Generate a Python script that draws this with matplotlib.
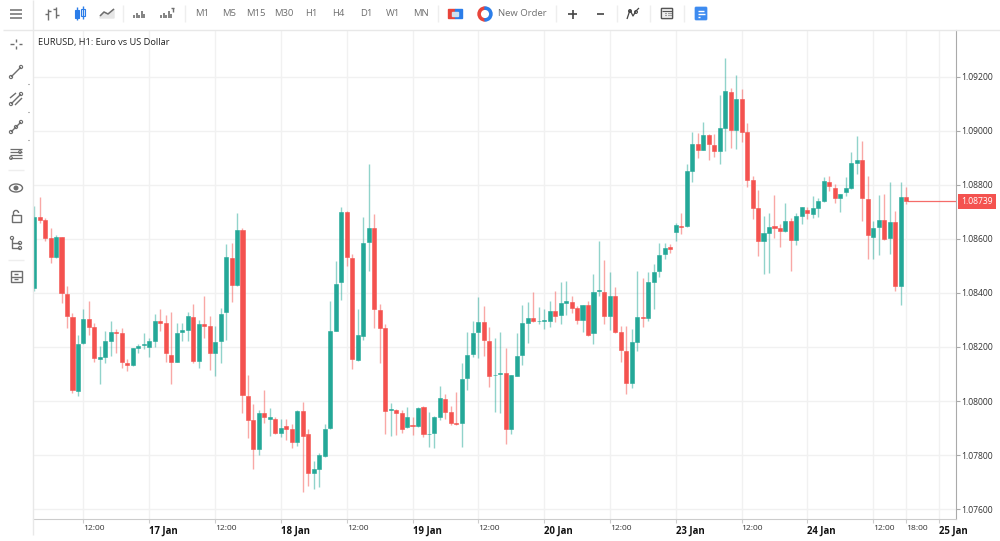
import matplotlib
matplotlib.use('Agg')
import matplotlib.pyplot as plt
from matplotlib.patches import Rectangle, Circle, Wedge, Ellipse, FancyBboxPatch

plt.rcParams['font.family'] = ['Open Sans', 'DejaVu Sans']

# hourly candles, hours counted from 17 Jan 00:00 with the weekend left out
first_hour = -21

opens = [
    1.08420, 1.08683, 1.08670, 1.08605, 1.08532, 1.08606, 1.08398, 1.08310, 1.08038, 1.08214,
    1.08303, 1.08274, 1.08154, 1.08163, 1.08223, 1.08255, 1.08250, 1.08140, 1.08134, 1.08198,
    1.08208, 1.08201, 1.08224, 1.08298, 1.08288, 1.08171, 1.08146, 1.08255, 1.08263, 1.08311,
    1.08150, 1.08284, 1.08276, 1.08177, 1.08222, 1.08330, 1.08530, 1.08428, 1.08634, 1.08018,
    1.07929, 1.07824, 1.07955, 1.07935, 1.07935, 1.07883, 1.07907, 1.07896, 1.07848, 1.07964,
    1.07876, 1.07735, 1.07748, 1.07797, 1.07900, 1.08261, 1.08440, 1.08700, 1.08529, 1.08151,
    1.08242, 1.08588, 1.08642, 1.08337, 1.08271, 1.07966, 1.07968, 1.07956, 1.07905, 1.07910,
    1.07907, 1.07979, 1.07878, 1.07880, 1.07940, 1.08007, 1.07958, 1.07920, 1.07919, 1.08087,
    1.08174, 1.08255, 1.08294, 1.08224, 1.08095, 1.08100, 1.08105, 1.07897, 1.08092, 1.08169,
    1.08290, 1.08308, 1.08295, 1.08297, 1.08295, 1.08334, 1.08317, 1.08364, 1.08366, 1.08344,
    1.08300, 1.08356, 1.08250, 1.08406, 1.08405, 1.08314, 1.08390, 1.08255, 1.08186, 1.08068,
    1.08219, 1.08312, 1.08308, 1.08439, 1.08481, 1.08543, 1.08570, 1.08626, 1.08648, 1.08647,
    1.08852, 1.08952, 1.08931, 1.08986, 1.08949, 1.08926, 1.09011, 1.09144, 1.09005, 1.09119,
    1.08995, 1.08817, 1.08715, 1.08593, 1.08623, 1.08647, 1.08641, 1.08630, 1.08665, 1.08597,
    1.08684, 1.08708, 1.08694, 1.08714, 1.08741, 1.08810, 1.08787, 1.08750, 1.08773, 1.08788,
    1.08883, 1.08892, 1.08748, 1.08608, 1.08643, 1.08671, 1.08603, 1.08662, 1.08427, 1.08756,
]
highs = [
    1.08723, 1.08757, 1.08676, 1.08642, 1.08615, 1.08608, 1.08426, 1.08325, 1.08243, 1.08339,
    1.08370, 1.08290, 1.08205, 1.08259, 1.08296, 1.08265, 1.08269, 1.08154, 1.08197, 1.08211,
    1.08250, 1.08232, 1.08322, 1.08340, 1.08318, 1.08329, 1.08288, 1.08290, 1.08328, 1.08358,
    1.08300, 1.08390, 1.08313, 1.08277, 1.08343, 1.08581, 1.08584, 1.08697, 1.08640, 1.08096,
    1.07988, 1.07966, 1.08039, 1.07974, 1.07939, 1.07935, 1.07935, 1.07914, 1.07966, 1.07996,
    1.07895, 1.07777, 1.07806, 1.07913, 1.08370, 1.08517, 1.08717, 1.08702, 1.08544, 1.08339,
    1.08682, 1.08876, 1.08693, 1.08361, 1.08284, 1.07994, 1.07969, 1.07967, 1.07977, 1.07939,
    1.07979, 1.07983, 1.07958, 1.07946, 1.08057, 1.08025, 1.07983, 1.08035, 1.08142, 1.08255,
    1.08297, 1.08386, 1.08350, 1.08273, 1.08232, 1.08256, 1.08195, 1.08095, 1.08250, 1.08355,
    1.08365, 1.08402, 1.08349, 1.08339, 1.08370, 1.08406, 1.08439, 1.08444, 1.08389, 1.08352,
    1.08356, 1.08370, 1.08470, 1.08593, 1.08522, 1.08476, 1.08421, 1.08277, 1.08279, 1.08265,
    1.08481, 1.08454, 1.08476, 1.08506, 1.08587, 1.08587, 1.08582, 1.08658, 1.08695, 1.08877,
    1.08998, 1.08991, 1.09033, 1.08989, 1.08988, 1.09133, 1.09269, 1.09160, 1.09206, 1.09156,
    1.09028, 1.08833, 1.08781, 1.08685, 1.08695, 1.08762, 1.08656, 1.08733, 1.08677, 1.08695,
    1.08719, 1.08719, 1.08760, 1.08750, 1.08829, 1.08834, 1.08803, 1.08767, 1.08830, 1.08922,
    1.08983, 1.08963, 1.08834, 1.08667, 1.08762, 1.08767, 1.08810, 1.08703, 1.08811, 1.08793,
]
lows = [
    1.08408, 1.08660, 1.08594, 1.08510, 1.08528, 1.08364, 1.08271, 1.08028, 1.08020, 1.08211,
    1.08244, 1.08146, 1.08064, 1.08142, 1.08168, 1.08178, 1.08121, 1.08111, 1.08130, 1.08178,
    1.08194, 1.08164, 1.08201, 1.08260, 1.08145, 1.08064, 1.08143, 1.08223, 1.08223, 1.08139,
    1.08123, 1.08234, 1.08114, 1.08093, 1.08139, 1.08225, 1.08366, 1.08425, 1.07956, 1.07863,
    1.07749, 1.07801, 1.07919, 1.07870, 1.07876, 1.07865, 1.07855, 1.07827, 1.07834, 1.07664,
    1.07685, 1.07674, 1.07682, 1.07793, 1.07896, 1.08260, 1.08374, 1.08500, 1.08117, 1.08150,
    1.08225, 1.08483, 1.08269, 1.08140, 1.07878, 1.07872, 1.07874, 1.07880, 1.07899, 1.07874,
    1.07903, 1.07866, 1.07831, 1.07825, 1.07928, 1.07934, 1.07911, 1.07911, 1.07831, 1.08039,
    1.08162, 1.08158, 1.08165, 1.08053, 1.07960, 1.07955, 1.07840, 1.07878, 1.08092, 1.08133,
    1.08216, 1.08293, 1.08284, 1.08266, 1.08274, 1.08291, 1.08285, 1.08317, 1.08327, 1.08284,
    1.08255, 1.08242, 1.08210, 1.08389, 1.08284, 1.08263, 1.08250, 1.08144, 1.08027, 1.08049,
    1.08185, 1.08275, 1.08297, 1.08339, 1.08460, 1.08526, 1.08549, 1.08594, 1.08617, 1.08644,
    1.08811, 1.08899, 1.08930, 1.08891, 1.08904, 1.08877, 1.08927, 1.08938, 1.08935, 1.08960,
    1.08793, 1.08673, 1.08537, 1.08470, 1.08473, 1.08602, 1.08572, 1.08627, 1.08483, 1.08578,
    1.08656, 1.08674, 1.08676, 1.08680, 1.08737, 1.08779, 1.08735, 1.08699, 1.08761, 1.08785,
    1.08840, 1.08668, 1.08525, 1.08526, 1.08542, 1.08597, 1.08546, 1.08409, 1.08357, 1.08730,
]
closes = [
    1.08683, 1.08670, 1.08605, 1.08532, 1.08606, 1.08399, 1.08316, 1.08041, 1.08212, 1.08303,
    1.08275, 1.08159, 1.08162, 1.08222, 1.08255, 1.08251, 1.08143, 1.08132, 1.08197, 1.08205,
    1.08212, 1.08223, 1.08298, 1.08290, 1.08176, 1.08146, 1.08253, 1.08263, 1.08313, 1.08150,
    1.08284, 1.08277, 1.08176, 1.08219, 1.08324, 1.08532, 1.08429, 1.08632, 1.08021, 1.07929,
    1.07824, 1.07956, 1.07939, 1.07939, 1.07880, 1.07901, 1.07898, 1.07848, 1.07964, 1.07872,
    1.07735, 1.07747, 1.07800, 1.07897, 1.08258, 1.08435, 1.08700, 1.08532, 1.08155, 1.08243,
    1.08585, 1.08642, 1.08339, 1.08272, 1.07962, 1.07969, 1.07957, 1.07897, 1.07939, 1.07908,
    1.07973, 1.07879, 1.07879, 1.07939, 1.08010, 1.07960, 1.07919, 1.07914, 1.08083, 1.08172,
    1.08251, 1.08294, 1.08225, 1.08094, 1.08098, 1.08105, 1.07897, 1.08095, 1.08166, 1.08289,
    1.08308, 1.08295, 1.08297, 1.08300, 1.08334, 1.08314, 1.08364, 1.08369, 1.08345, 1.08300,
    1.08354, 1.08245, 1.08402, 1.08411, 1.08313, 1.08390, 1.08254, 1.08189, 1.08068, 1.08217,
    1.08311, 1.08308, 1.08440, 1.08476, 1.08542, 1.08566, 1.08563, 1.08652, 1.08643, 1.08853,
    1.08952, 1.08928, 1.08986, 1.08951, 1.08926, 1.09010, 1.09147, 1.09005, 1.09119, 1.08996,
    1.08819, 1.08715, 1.08593, 1.08621, 1.08646, 1.08642, 1.08630, 1.08667, 1.08596, 1.08685,
    1.08719, 1.08695, 1.08713, 1.08739, 1.08813, 1.08795, 1.08751, 1.08767, 1.08787, 1.08881,
    1.08892, 1.08753, 1.08613, 1.08642, 1.08671, 1.08600, 1.08662, 1.08427, 1.08756, 1.08739,
]

price_ticks = [1.076, 1.078, 1.080, 1.082, 1.084, 1.086, 1.088, 1.090, 1.092]
time_ticks = [-12, 0, 12, 24, 36, 48, 60, 72, 84, 96, 108, 120, 132, 138, 144]
time_labels = ['12:00', '17 Jan', '12:00', '18 Jan', '12:00', '19 Jan', '12:00', '20 Jan',
               '12:00', '23 Jan', '12:00', '24 Jan', '12:00', '18:00', '25 Jan']
periods = ['M1', 'M5', 'M15', 'M30', 'H1', 'H4', 'D1', 'W1', 'MN']
last_price = 1.08739

GREEN = '#24a898'
RED = '#f4524f'
GREY = '#6e6e6e'
GRID = '#f1f1f1'

fig = plt.figure(figsize=(10, 5.41), dpi=100, facecolor='white')
ax = fig.add_axes([33 / 1000, 1 - 519 / 541, 923 / 1000, 489 / 541])

hours = [first_hour + i for i in range(len(opens))]
colors = [GREEN if c >= o else RED for o, c in zip(opens, closes)]

# wicks first, lighter than the bodies
ax.vlines(hours, lows, highs, colors=colors, linewidth=1.0, alpha=0.5, zorder=2)
ax.bar(hours, [abs(c - o) for o, c in zip(opens, closes)],
       bottom=[min(o, c) for o, c in zip(opens, closes)],
       width=0.74, color=colors, edgecolor=colors, linewidth=0.4, zorder=3)

# last price line and tag
ax.plot([hours[-1] + 0.4, 147.1], [last_price, last_price], color=RED, linewidth=0.9, alpha=0.85, zorder=2)
ax.text(1.0052, last_price, '1.08739', transform=ax.get_yaxis_transform(), color='white',
        fontsize=6.2, ha='left', va='center', zorder=5, clip_on=False,
        bbox=dict(boxstyle='square,pad=0.38', facecolor=RED, edgecolor='none'))

ax.set_xlim(-21.2, 147.1)
ax.set_ylim(1.07563, 1.09374)
ax.yaxis.tick_right()
ax.set_yticks(price_ticks)
ax.set_yticklabels(['%.5f' % p for p in price_ticks], fontsize=6.2, color='#333333')
ax.set_xticks(time_ticks)
ax.set_xticklabels(time_labels, fontsize=6.1, color='#333333', ha='left')
for tick in ax.get_xticklabels():
    if 'Jan' in tick.get_text():
        tick.set_fontweight('bold')
        tick.set_fontsize(6.9)
        tick.set_color('#111111')
ax.tick_params(axis='x', length=3, width=0.8, color='#cccccc', pad=1.5)
ax.tick_params(axis='y', length=3, width=0.8, color='#aaaaaa', pad=1)
ax.grid(True, color=GRID, linewidth=1)
ax.set_axisbelow(True)
for side in ['top', 'left']:
    ax.spines[side].set_visible(False)
ax.spines['bottom'].set_color('#cccccc')
ax.spines['right'].set_color('#aaaaaa')

# toolbars, drawn in pixel coordinates on top of the chart
ui = fig.add_axes([0, 0, 1, 1], facecolor='none', zorder=10)
ui.set_xlim(0, 1000)
ui.set_ylim(541, 0)
ui.axis('off')

ui.text(38, 42, 'EURUSD, H1: Euro vs US Dollar', fontsize=6.65, color='#222222', va='center')


def line(xs, ys, color=GREY, lw=1.0):
    ui.plot(xs, ys, color=color, linewidth=lw, solid_capstyle='butt')


def ring(x, y, r=1.6, color=GREY):
    ui.add_patch(Circle((x, y), r, facecolor='white', edgecolor=color, linewidth=0.8))


line([3, 1000], [30, 30], '#e8e8e8')
line([33, 33], [0, 535], '#e8e8e8')
for x in [123, 185, 438, 556, 617, 650, 684]:
    line([x, x], [5, 22], '#eeeeee')
for y in [170, 260]:
    line([8, 24], [y, y], '#eeeeee')

# top toolbar
for y in [10, 14, 18]:
    line([10, 22], [y, y], GREY, 1.1)
line([48, 48], [9, 20])
line([45, 48], [14, 14])
line([48, 51], [11, 11])
line([56, 56], [7, 18])
line([53, 56], [9, 9])
line([56, 59], [15, 15])
for x, y0, y1, wick0, wick1 in [(77, 10, 18, 7, 20), (83, 9, 16, 6, 19)]:
    line([x, x], [wick0, wick1], '#2b7de9', 1.0)
    ui.add_patch(Rectangle((x - 2, y0), 4, y1 - y0, facecolor='#2b7de9' if x == 77 else 'white',
                           edgecolor='#2b7de9', linewidth=0.8))
ui.fill([100, 104, 108, 114, 114, 100], [16, 12, 14, 9, 18, 18], color='#e6e6e6')
line([100, 104, 108, 114], [16, 12, 14, 9], GREY, 1.1)
for start in [134, 161]:
    for k, h in enumerate([3, 5, 3, 7, 4]):
        line([start + k * 2.6, start + k * 2.6], [18, 18 - h], GREY, 1.2)
line([171, 174], [8, 8], GREY, 1.0)
line([172.5, 172.5], [8, 12], GREY, 1.0)

for x, name in zip([202, 229, 256, 284, 311, 338, 366, 393, 421], periods):
    ui.text(x, 14, name, fontsize=6.8, color=GREY, ha='center', va='center')
ui.add_patch(Rectangle((448, 9), 7, 9, color='#e8443a'))
ui.add_patch(Rectangle((455, 9), 7, 9, color='#2b7de9'))
ui.add_patch(Rectangle((452, 12), 6, 3.5, color='#cfe0ee'))
ui.add_patch(Wedge((485, 14), 7, 90, 270, width=2.2, color='#e8443a'))
ui.add_patch(Wedge((485, 14), 7, -90, 90, width=2.2, color='#2b7de9'))
ui.text(498, 14, 'New Order', fontsize=6.8, color=GREY, ha='left', va='center')
line([568, 577], [14, 14], '#444444', 1.2)
line([572.5, 572.5], [9.5, 18.5], '#444444', 1.2)
line([597, 604], [14, 14], '#444444', 1.2)
line([627, 630, 633, 636, 639], [19, 10, 16, 11, 8], '#444444', 0.9)
ring(630, 11, 1.4, '#444444')
ring(636, 12, 1.4, '#444444')
ui.add_patch(FancyBboxPatch((662, 9), 10, 9, boxstyle='round,pad=0.6', facecolor='#eeeeee',
                            edgecolor='#555555', linewidth=1.0))
for x in [665, 667.5, 670]:
    for y in [12.5, 15]:
        line([x, x + 1], [y, y], '#555555', 0.8)
line([662, 672], [10.5, 10.5], '#555555', 0.8)
ui.add_patch(FancyBboxPatch((696, 8), 10, 11, boxstyle='round,pad=1', facecolor='#3d8bf0',
                            edgecolor='#3d8bf0', linewidth=0.5))
for y, x1 in [(10.5, 704), (13.5, 705), (16.5, 700)]:
    line([698, x1], [y, y], 'white', 1.0)

# left toolbar
line([16, 16], [39, 42])
line([16, 16], [46, 49])
line([10, 13.5], [44, 44])
line([18.5, 22], [44, 44])
line([11, 21], [77, 67])
ring(11, 77)
ring(21, 67)
line([10, 16], [98, 93])
line([15, 22], [105, 98])
line([11, 21], [104, 94])
ring(11, 104)
ring(21, 94)
line([11, 21], [132, 122])
ring(11, 132)
ring(16, 127)
ring(21, 122)
for y in [149, 152, 155, 158]:
    line([10, 22], [y, y], GREY, 0.9)
ring(20, 152, 1.4)
ring(11, 158, 1.4)
ui.add_patch(Ellipse((16, 188), 13, 8, facecolor='none', edgecolor=GREY, linewidth=1.0))
ui.add_patch(Circle((16, 188), 1.8, color=GREY))
ui.add_patch(Rectangle((11.5, 215), 9, 7, facecolor='none', edgecolor=GREY, linewidth=1.0))
line([13.5, 13.5, 15, 17, 18.5, 18.5], [215, 212, 210.5, 210.5, 212, 213])
line([12, 12, 20], [238, 248, 248])
line([12, 20], [243, 243])
ring(12, 238)
ring(20, 243)
ring(20, 248)
ui.add_patch(Rectangle((10.5, 271), 11, 11, facecolor='none', edgecolor=GREY, linewidth=1.0))
line([10.5, 21.5], [276.5, 276.5])
line([14, 18], [274, 274])
line([14, 18], [279, 279])
for y in [84, 112, 140]:
    line([28, 29], [y, y], GREY, 0.8)

fig.savefig('out.png', dpi=100)
